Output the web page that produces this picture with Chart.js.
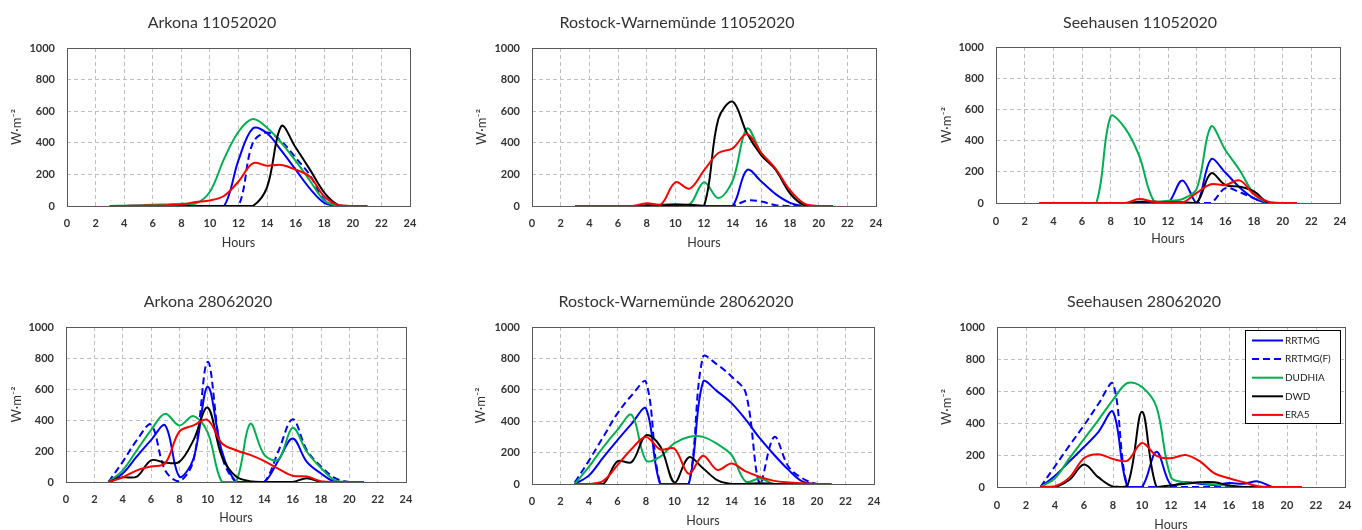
<!DOCTYPE html>
<html>
<head>
<meta charset="utf-8">
<script src="https://cdn.jsdelivr.net/npm/chart.js@4.4.1/dist/chart.umd.min.js"></script>
<style>
body { margin: 0; background: #fff; width: 1362px; height: 530px; overflow: hidden; position: relative; }
canvas { position: absolute; }
</style>
</head>
<body>
<script>
var hours = [3,4,5,6,7,8,9,10,11,12,13,14,15,16,17,18,19,20,21];
var xTicks = [0,2,4,6,8,10,12,14,16,18,20,22,24];
var yTicks = [0,200,400,600,800,1000];
var seriesNames = ['RRTMG','RRTMG(F)','DUDHIA','DWD','ERA5'];

// Arkona 11052020
var ark1105_rrtmg  = [0,0,0,0,0,0,0,0,0,290,490,460,350,230,110,20,0,0,0];
var ark1105_rrtmgF = [0,0,0,0,0,0,0,0,0,0,400,465,410,305,195,40,0,0,0];
var ark1105_dudhia = [0,2,4,8,10,15,15,90,300,470,550,495,400,285,160,35,0,0,0];
var ark1105_dwd    = [0,0,0,0,0,0,0,0,0,0,0,120,505,370,230,85,5,0,0];
var ark1105_era5   = [0,0,2,3,5,10,25,35,65,155,270,255,260,230,185,60,5,0,0];

// Rostock-Warnemünde 11052020
var ros1105_rrtmg  = [0,0,0,0,0,0,0,0,0,0,0,0,228,155,75,20,0,0,0];
var ros1105_rrtmgF = [0,0,0,0,0,0,0,0,0,0,0,0,35,28,5,0,0,0,0];
var ros1105_dudhia = [0,0,0,0,0,0,8,12,10,150,50,160,490,335,230,85,0,0,0];
var ros1105_dwd    = [0,0,0,0,0,5,5,8,8,0,550,660,460,320,230,80,5,0,0];
var ros1105_era5   = [0,0,0,0,0,18,10,150,110,225,335,365,455,335,235,100,15,0,0];

// Seehausen 11052020
var see1105_rrtmg  = [0,0,0,0,0,0,0,0,0,0,145,0,280,195,100,30,0,0,0];
var see1105_rrtmgF = [0,0,0,0,0,0,0,0,0,0,0,0,0,95,70,30,0,0,0];
var see1105_dudhia = [0,0,0,0,0,555,480,300,15,15,25,90,490,340,210,60,0,0,0];
var see1105_dwd    = [0,0,0,0,0,0,0,8,8,5,5,0,190,115,105,75,0,0,0];
var see1105_era5   = [0,0,0,0,0,0,0,25,8,5,2,65,120,115,145,55,8,0,0];

// Arkona 28062020
var ark2806_rrtmg  = [0,55,165,270,365,35,150,615,200,0,0,0,140,280,130,55,0,0,0];
var ark2806_rrtmgF = [0,130,270,370,75,5,140,775,170,0,0,0,200,405,205,100,25,0,0];
var ark2806_dudhia = [0,75,205,335,440,365,425,320,0,0,375,175,145,350,195,90,10,0,0];
var ark2806_dwd    = [0,30,35,140,125,130,270,480,165,35,5,0,0,0,25,0,0,0,0];
var ark2806_era5   = [0,30,75,100,120,325,365,400,250,205,175,135,85,40,35,5,0,0,0];

// Rostock-Warnemünde 28062020
var ros2806_rrtmg  = [0,55,170,280,385,480,0,0,0,650,590,515,410,290,185,90,15,0,0];
var ros2806_rrtmgF = [10,150,300,450,565,650,0,0,0,810,760,685,580,0,300,110,35,0,0];
var ros2806_dudhia = [0,110,235,345,440,150,175,260,300,300,255,185,15,35,0,0,0,0,0];
var ros2806_dwd    = [0,0,0,145,140,310,240,10,170,100,25,0,0,5,0,0,0,0,0];
var ros2806_era5   = [0,0,20,120,225,300,220,225,65,180,90,130,80,45,20,10,5,0,0];

// Seehausen 28062020
var see2806_rrtmg  = [0,70,160,250,345,470,0,0,220,12,30,20,12,25,20,35,0,0,0];
var see2806_rrtmgF = [0,130,260,385,520,645,0,0,0,0,0,0,0,0,0,0,0,0,0];
var see2806_dudhia = [0,55,180,300,420,545,650,625,500,60,30,25,15,8,0,0,0,0,0];
var see2806_dwd    = [0,0,45,140,60,3,10,470,0,10,20,30,30,10,0,0,0,0,0];
var see2806_era5   = [0,5,60,180,205,175,165,275,195,180,200,160,85,55,30,5,0,0,0];

var fuente = 'Lato, "Open Sans", sans-serif';
var colores = ['#0000ff','#0000ff','#00b050','#000000','#ff0000'];
var guiones = [[], [7,4], [], [], []];

// geometry of each panel (page pixels): L/b title span, a chart left, c/d chart top/bottom
var paneles = [
	{titulo: 'Arkona 11052020', series: [ark1105_rrtmg, ark1105_rrtmgF, ark1105_dudhia, ark1105_dwd, ark1105_era5],
	 L: 14, b: 410, a: 67, T: 0, H: 260, c: 48, d: 206, tY: 23, yX: 17, xLab: 223, xTit: 243},
	{titulo: 'Rostock-Warnemünde 11052020', series: [ros1105_rrtmg, ros1105_rrtmgF, ros1105_dudhia, ros1105_dwd, ros1105_era5],
	 L: 478, b: 876, a: 532, T: 0, H: 260, c: 48, d: 206, tY: 23, yX: 482, xLab: 223, xTit: 243},
	{titulo: 'Seehausen 11052020', series: [see1105_rrtmg, see1105_rrtmgF, see1105_dudhia, see1105_dwd, see1105_era5],
	 L: 940, b: 1340, a: 996, T: 0, H: 260, c: 47, d: 203, tY: 23, yX: 947, xLab: 221, xTit: 239},
	{titulo: 'Arkona 28062020', series: [ark2806_rrtmg, ark2806_rrtmgF, ark2806_dudhia, ark2806_dwd, ark2806_era5],
	 L: 10, b: 406, a: 66, T: 270, H: 260, c: 327, d: 482, tY: 302, yX: 17, xLab: 499, xTit: 518},
	{titulo: 'Rostock-Warnemünde 28062020', series: [ros2806_rrtmg, ros2806_rrtmgF, ros2806_dudhia, ros2806_dwd, ros2806_era5],
	 L: 478, b: 874, a: 532, T: 270, H: 260, c: 327, d: 484, tY: 302, yX: 481, xLab: 501, xTit: 521},
	{titulo: 'Seehausen 28062020', series: [see2806_rrtmg, see2806_rrtmgF, see2806_dudhia, see2806_dwd, see2806_era5],
	 L: 943, b: 1345, a: 997, T: 270, H: 260, c: 327, d: 487, tY: 302, yX: 947, xLab: 505, xTit: 525, leyenda: true}
];

var marco = {
	id: 'marco',
	beforeDatasetsDraw: function(chart) {
		var a = chart.chartArea, c = chart.ctx;
		c.save();
		c.strokeStyle = '#595959';
		c.lineWidth = 1;
		c.strokeRect(Math.round(a.left) + 0.5, Math.round(a.top) + 0.5, Math.round(a.right) - Math.round(a.left), Math.round(a.bottom) - Math.round(a.top));
		c.restore();
	}
};

var leyendaCaja = {
	id: 'leyendaCaja',
	afterDatasetsDraw: function(chart) {
		var a = chart.chartArea, c = chart.ctx;
		var w = 95, h = 93;
		var x = Math.round(a.right) - 5 - w, y = Math.round(a.top) + 3;
		c.save();
		c.fillStyle = '#fff';
		c.fillRect(x, y, w, h);
		c.strokeStyle = '#000';
		c.lineWidth = 1;
		c.strokeRect(x + 0.5, y + 0.5, w, h);
		chart.data.datasets.forEach(function(ds, i) {
			var ly = y + 10.5 + i * 18.6;
			c.strokeStyle = ds.borderColor;
			c.lineWidth = 2;
			c.setLineDash(ds.borderDash);
			c.beginPath();
			c.moveTo(x + 7, ly);
			c.lineTo(x + 38, ly);
			c.stroke();
			c.setLineDash([]);
			c.fillStyle = '#222';
			c.font = '10px ' + fuente;
			c.textBaseline = 'middle';
			c.fillText(ds.label, x + 40, ly);
		});
		c.restore();
	}
};

function dibujar(p) {
	var cv = document.createElement('canvas');
	var ancho = p.b - p.L + 28;
	cv.width = ancho;
	cv.height = p.H;
	cv.style.left = (p.L - 14) + 'px';
	cv.style.top = p.T + 'px';
	document.body.appendChild(cv);

	var tituloPadTop = p.tY - p.T - 9.6;
	var tituloPadBottom = p.c - p.T - tituloPadTop - 19.2;
	var altoX = p.T + p.H - p.d;
	var anchoY = p.a - p.L;

	new Chart(cv.getContext('2d'), {
		type: 'line',
		data: {
			datasets: seriesNames.map(function(nombre, i) {
				return {
					label: nombre,
					data: hours.map(function(h, j) { return {x: h, y: p.series[i][j]}; }),
					borderColor: colores[i],
					borderWidth: 2,
					borderDash: guiones[i],
					pointRadius: 0,
					tension: 0.35,
					fill: false,
					order: seriesNames.length - i
				};
			})
		},
		options: {
			responsive: false,
			animation: false,
			events: [],
			layout: { padding: { left: 14, right: 14, top: 0, bottom: 0 } },
			plugins: {
				legend: { display: false },
				tooltip: { enabled: false },
				title: {
					display: true,
					text: p.titulo,
					color: '#333333',
					font: { family: fuente, size: 16, weight: 'normal', lineHeight: 1.2 },
					padding: { top: tituloPadTop, bottom: tituloPadBottom }
				}
			},
			scales: {
				x: {
					type: 'linear',
					min: 0,
					max: 24,
					afterBuildTicks: function(s) { s.ticks = xTicks.map(function(v) { return {value: v}; }); },
					afterFit: function(s) { s.height = altoX; s.paddingLeft = 0; s.paddingRight = 0; },
					grid: { color: '#bfbfbf', lineWidth: 1, drawTicks: false },
					border: { display: false, dash: [4,3] },
					ticks: { color: '#333333', padding: p.xLab - p.d - 6.5, maxRotation: 0, autoSkip: false,
						font: { family: fuente, size: 11, weight: 'bold' },
						callback: function(v) { return String(v); } },
					title: { display: true, text: 'Hours', color: '#333333',
						font: { family: fuente, size: 12.5, lineHeight: 1.2 },
						padding: { top: 0, bottom: p.T + p.H - p.xTit - 7.5 } }
				},
				y: {
					min: 0,
					max: 1000,
					afterBuildTicks: function(s) { s.ticks = yTicks.map(function(v) { return {value: v}; }); },
					afterFit: function(s) { s.width = anchoY; s.paddingTop = 0; s.paddingBottom = 0; },
					grid: { color: '#bfbfbf', lineWidth: 1, drawTicks: false },
					border: { display: false, dash: [4,3] },
					ticks: { color: '#333333', padding: 12, autoSkip: false,
						font: { family: fuente, size: 11, weight: 'bold' },
						callback: function(v) { return String(v); } },
					title: { display: true, text: 'W·m⁻²', color: '#333333',
						font: { family: fuente, size: 13, lineHeight: 1.2 },
						padding: { top: p.yX - p.L - 7.8, bottom: 0 } }
				}
			}
		},
		plugins: p.leyenda ? [marco, leyendaCaja] : [marco]
	});
}

paneles.forEach(dibujar);
</script>
</body>
</html>
